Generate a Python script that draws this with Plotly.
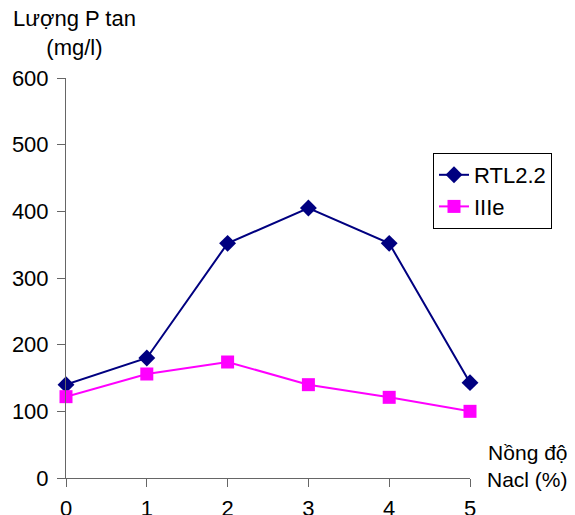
import plotly.graph_objects as go

nacl = [0, 1, 2, 3, 4, 5]
rtl22 = [140, 180, 352, 405, 352, 143]
iiie = [122, 156, 174, 140, 121, 100]
y_ticks = [0, 100, 200, 300, 400, 500, 600]

OFF = 8  # page body margin
W, H = 575 - OFF, 515 - OFF
# plot area edges in screenshot pixels
L, R, T, B = 66, 470, 78, 478

def px(x):
    return (x - L) / (R - L)

def py(y):
    return (B - y) / (B - T)

fig = go.Figure()
fig.add_trace(go.Scatter(x=nacl, y=rtl22, name="RTL2.2", mode="lines+markers",
                         line=dict(color="#000080", width=2),
                         marker=dict(symbol="diamond", size=13, color="#000080"),
                         cliponaxis=False))
fig.add_trace(go.Scatter(x=nacl, y=iiie, name="IIIe", mode="lines+markers",
                         line=dict(color="#FF00FF", width=2),
                         marker=dict(symbol="square", size=13, color="#FF00FF"),
                         cliponaxis=False))

font = dict(family="Liberation Sans, Arial, sans-serif", size=22, color="black")
font21 = dict(family="Liberation Sans, Arial, sans-serif", size=21, color="black")
fig.update_layout(
    width=W, height=H,
    margin=dict(l=L - OFF, r=W - (R - OFF), t=T - OFF, b=H - (B - OFF), pad=0),
    paper_bgcolor="white", plot_bgcolor="white",
    font=font,
    showlegend=True,
    legend=dict(x=px(433), y=py(153), xanchor="left", yanchor="top",
                bgcolor="white", bordercolor="black", borderwidth=1,
                font=font, tracegroupgap=0),
    xaxis=dict(range=[0, 5], tickvals=nacl, ticks="outside", ticklen=8,
               tickcolor="#666", showline=True, linecolor="#666", linewidth=1,
               showgrid=False, zeroline=False, ticklabelstandoff=3,
               automargin=False),
    yaxis=dict(range=[0, 600], tickvals=y_ticks, ticks="outside", ticklen=8,
               tickcolor="#666", showline=True, linecolor="#666", linewidth=1,
               showgrid=False, zeroline=False, ticklabelstandoff=4,
               automargin=False),
    annotations=[
        dict(text="Lượng P tan<br>(mg/l)", xref="paper", yref="paper",
             x=px(74), y=py(33), xanchor="center", yanchor="middle",
             showarrow=False, font=font, align="center"),
        dict(text="Nồng độ<br>Nacl (%)", xref="paper", yref="paper",
             x=px(570), y=py(466), xanchor="right", yanchor="middle",
             showarrow=False, font=font21, align="right"),
    ],
)
fig.write_html("out.html")
